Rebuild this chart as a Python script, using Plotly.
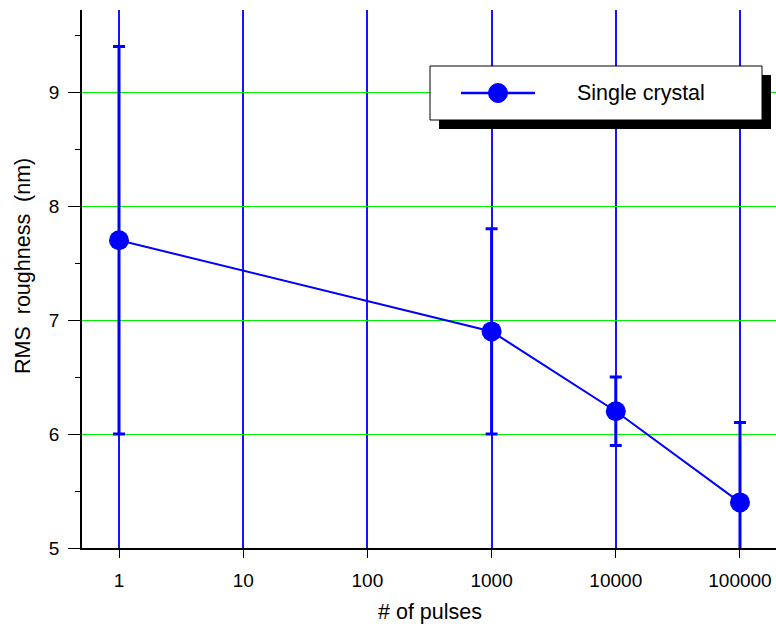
import plotly.graph_objects as go

# RMS roughness vs. number of laser pulses
pulses = [1, 1000, 10000, 100000]
roughness = [7.7, 6.9, 6.2, 5.4]
roughness_err = [1.7, 0.9, 0.3, 0.7]
x_ticks = [1, 10, 100, 1000, 10000, 100000]
x_labels = ["1", "10", "100", "1000", "10000", "100000"]
y_ticks = [5, 6, 7, 8, 9]
series_name = "Single crystal"

W, H = 776, 628
L, R, T, B = 82, 0, 10, 80
PW, PH = W - L - R, H - T - B

def px(p):
    return (p - L) / PW

def py(p):
    return (H - B - p) / PH

BLUE = "#0000ff"
FONT = "Liberation Sans, Arial, Helvetica, sans-serif"

fig = go.Figure()
fig.add_trace(go.Scatter(
    x=pulses, y=roughness, mode="lines+markers", name=series_name,
    line=dict(color=BLUE, width=2),
    marker=dict(color=BLUE, size=20),
    error_y=dict(type="data", array=roughness_err, visible=True,
                 color=BLUE, thickness=3, width=6),
    showlegend=False,
))

# Legend box with drop shadow
lx0, ly0, lx1, ly1 = 430, 66, 762, 120
sh = 9
shapes = [
    dict(type="rect", xref="paper", yref="paper",
         x0=px(lx0 + sh), x1=px(lx1 + sh), y0=py(ly1 + sh), y1=py(ly0 + sh),
         fillcolor="black", line=dict(width=0), layer="above"),
    dict(type="rect", xref="paper", yref="paper",
         x0=px(lx0), x1=px(lx1), y0=py(ly1), y1=py(ly0),
         fillcolor="white", line=dict(color="black", width=1), layer="above"),
    dict(type="line", xref="paper", yref="paper",
         x0=px(461), x1=px(535), y0=py(93), y1=py(93),
         line=dict(color=BLUE, width=2.5), layer="above"),
    dict(type="circle", xref="paper", yref="paper",
         x0=px(488.5), x1=px(507.5), y0=py(102.5), y1=py(83.5),
         fillcolor=BLUE, line=dict(color=BLUE, width=1), layer="above"),
]

annotations = [
    dict(text=series_name, xref="paper", yref="paper", x=px(575), y=py(93),
         xanchor="left", yanchor="middle", showarrow=False,
         font=dict(size=21.5, color="black", family=FONT)),
    dict(text="# of pulses", xref="paper", yref="paper", x=px(430), y=py(612),
         xanchor="center", yanchor="middle", showarrow=False,
         font=dict(size=21.5, color="black", family=FONT)),
    dict(text="RMS  roughness  (nm)", xref="paper", yref="paper", x=px(23), y=py(266),
         xanchor="center", yanchor="middle", showarrow=False, textangle=-90,
         font=dict(size=21.5, color="black", family=FONT)),
]

fig.update_layout(
    width=W, height=H,
    margin=dict(l=L, r=R, t=T, b=B, pad=0),
    paper_bgcolor="white", plot_bgcolor="white",
    font=dict(family=FONT, size=19, color="black"),
    shapes=shapes, annotations=annotations,
    xaxis=dict(
        type="log", range=[-0.298, 5.29],
        tickvals=x_ticks, ticktext=x_labels,
        tickfont=dict(size=19, family=FONT, color="black"),
        showgrid=True, gridcolor="rgb(20,20,255)", gridwidth=1.6,
        showline=True, linecolor="black", linewidth=1.5,
        ticks="outside", ticklen=8, tickcolor="black", tickwidth=1.2,
        ticklabelstandoff=6, zeroline=False,
    ),
    yaxis=dict(
        range=[5, 9.72],
        tickvals=y_ticks,
        tickfont=dict(size=19, family=FONT, color="black"),
        showgrid=True, gridcolor="#00ee00", gridwidth=1.3,
        showline=True, linecolor="black", linewidth=1.5,
        ticks="outside", ticklen=12, tickcolor="black", tickwidth=1.2,
        ticklabelstandoff=5, zeroline=False,
        minor=dict(dtick=0.5, ticks="outside", ticklen=5, tickcolor="black",
                   tickwidth=1.2, showgrid=False),
    ),
)

fig.write_html("out.html")
